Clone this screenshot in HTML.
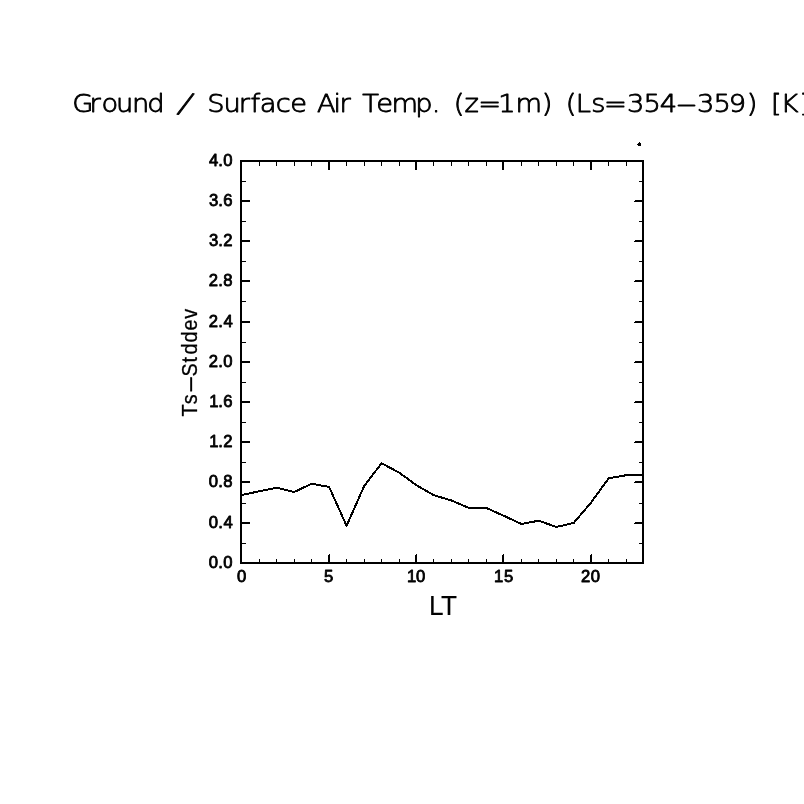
<!DOCTYPE html>
<html lang="en"><head><meta charset="utf-8"><title>Ground / Surface Air Temp.</title>
<style>html,body{margin:0;padding:0;background:#fff}svg{display:block}text{fill:#000;white-space:pre}</style></head><body>
<svg width="804" height="804" viewBox="0 0 804 804">
<rect width="804" height="804" fill="#fff"/>
<path shape-rendering="crispEdges" fill="#000" d="M240 160h404v2h-404zM240 562h404v2h-404zM240 160h2v404h-2zM642 160h2v404h-2zM259 559h1v3h-1zM259 162h1v4h-1zM276 559h1v3h-1zM276 162h1v4h-1zM294 559h1v3h-1zM294 162h1v4h-1zM311 559h1v3h-1zM311 162h1v4h-1zM329 554h1v8h-1zM328 555h1v7h-1zM328 162h2v8h-2zM346 559h1v3h-1zM346 162h1v4h-1zM364 559h1v3h-1zM364 162h1v4h-1zM381 559h1v3h-1zM381 162h1v4h-1zM399 559h1v3h-1zM399 162h1v4h-1zM416 554h1v8h-1zM415 555h1v7h-1zM415 162h2v8h-2zM433 559h1v3h-1zM433 162h1v4h-1zM451 559h1v3h-1zM451 162h1v4h-1zM468 559h1v3h-1zM468 162h1v4h-1zM486 559h1v3h-1zM486 162h1v4h-1zM503 554h1v8h-1zM502 555h1v7h-1zM502 162h2v8h-2zM521 559h1v3h-1zM521 162h1v4h-1zM538 559h1v3h-1zM538 162h1v4h-1zM556 559h1v3h-1zM556 162h1v4h-1zM573 559h1v3h-1zM573 162h1v4h-1zM591 554h1v8h-1zM590 555h1v7h-1zM590 162h2v8h-2zM608 559h1v3h-1zM608 162h1v4h-1zM626 559h1v3h-1zM626 162h1v4h-1zM242 543h4v1h-4zM639 543h3v1h-3zM242 522h8v2h-8zM634 523h8v1h-8zM635 522h7v1h-7zM242 503h4v1h-4zM639 503h3v1h-3zM242 481h8v2h-8zM634 482h8v1h-8zM635 481h7v1h-7zM242 462h4v1h-4zM639 462h3v1h-3zM242 441h8v2h-8zM634 442h8v1h-8zM635 441h7v1h-7zM242 422h4v1h-4zM639 422h3v1h-3zM242 401h8v2h-8zM634 402h8v1h-8zM635 401h7v1h-7zM242 382h4v1h-4zM639 382h3v1h-3zM242 361h8v2h-8zM634 362h8v1h-8zM635 361h7v1h-7zM242 342h4v1h-4zM639 342h3v1h-3zM242 321h8v2h-8zM634 322h8v1h-8zM635 321h7v1h-7zM242 301h4v1h-4zM639 301h3v1h-3zM242 280h8v2h-8zM634 281h8v1h-8zM635 280h7v1h-7zM242 261h4v1h-4zM639 261h3v1h-3zM242 240h8v2h-8zM634 241h8v1h-8zM635 240h7v1h-7zM242 221h4v1h-4zM639 221h3v1h-3zM242 200h8v2h-8zM634 201h8v1h-8zM635 200h7v1h-7zM242 181h4v1h-4zM639 181h3v1h-3z"/>
<path shape-rendering="crispEdges" fill="#000" d="M638 143h3v3h-3zM639 142h1v1h-1zM637 144h1v1h-1z"/>
<polyline shape-rendering="crispEdges" fill="none" stroke="#000" stroke-width="2" stroke-linejoin="round" points="241.75,495.02 259.23,491.30 276.70,487.68 294.18,492.01 311.65,483.70 329.12,486.98 346.60,525.79 364.08,486.17 381.55,463.25 399.02,472.50 416.50,485.27 433.98,495.22 451.45,500.45 468.93,507.99 486.40,507.99 503.88,515.84 521.35,523.98 538.83,520.71 556.30,527.00 573.78,522.88 591.25,502.30 608.73,478.23 626.20,475.21 643.67,475.01"/>
<text transform="scale(1.12,1)" x="64.44 79.99 90.58 103.59 117.82 131.52 147.01 158.22 168.10 185.07 199.66 213.11 223.76 231.83 246.12 259.15 274.16 282.95 297.69 303.07 313.10 323.44 335.98 349.59 370.67 385.55 393.30 405.07 414.67 426.92 444.82 460.35 483.73 493.25 505.16 514.01 527.89 539.38 559.73 574.63 589.00 603.43 622.37 636.99 650.77 666.68 676.20 688.33 696.91 713.78" y="111.90 111.90 111.90 111.90 111.90 111.90 111.90 111.42 111.90 111.90 111.90 111.90 111.90 111.90 111.90 111.90 111.90 111.90 111.90 111.90 111.90 111.90 111.90 111.90 111.90 111.90 111.90 111.90 111.90 111.90 111.90 111.90 111.90 111.90 111.90 111.90 111.90 111.90 111.90 111.90 111.90 111.90 111.90 111.90 111.90 111.90 111.90 111.90 111.90 111.90" font-family='"DejaVu Sans Light","DejaVu Sans","Liberation Sans",sans-serif' font-weight="200" font-size="24.4" stroke="#000" stroke-width="0.85" stroke-linejoin="round">Ground <tspan font-size="29.3" rotate="17">/</tspan> Surface Air Temp. (z=1m) (Ls=354<tspan textLength="19.21" lengthAdjust="spacingAndGlyphs">-</tspan>359) [K]</text>
<text transform="scale(1.04,1)" x="200.84 209.80 214.78" y="568.00" font-family='"Liberation Sans","DejaVu Sans",sans-serif' font-weight="400" font-size="16.0" stroke="#000" stroke-width="0.8" stroke-linejoin="round">0.0</text>
<text transform="scale(1.04,1)" x="200.84 209.80 214.83" y="528.00" font-family='"Liberation Sans","DejaVu Sans",sans-serif' font-weight="400" font-size="16.0" stroke="#000" stroke-width="0.8" stroke-linejoin="round">0.4</text>
<text transform="scale(1.04,1)" x="200.84 209.80 214.78" y="487.00" font-family='"Liberation Sans","DejaVu Sans",sans-serif' font-weight="400" font-size="16.0" stroke="#000" stroke-width="0.8" stroke-linejoin="round">0.8</text>
<text transform="scale(1.04,1)" x="201.10 209.80 214.78" y="447.00" font-family='"Liberation Sans","DejaVu Sans",sans-serif' font-weight="400" font-size="16.0" stroke="#000" stroke-width="0.8" stroke-linejoin="round">1.2</text>
<text transform="scale(1.04,1)" x="201.10 209.80 214.73" y="407.00" font-family='"Liberation Sans","DejaVu Sans",sans-serif' font-weight="400" font-size="16.0" stroke="#000" stroke-width="0.8" stroke-linejoin="round">1.6</text>
<text transform="scale(1.04,1)" x="200.84 209.80 214.78" y="367.00" font-family='"Liberation Sans","DejaVu Sans",sans-serif' font-weight="400" font-size="16.0" stroke="#000" stroke-width="0.8" stroke-linejoin="round">2.0</text>
<text transform="scale(1.04,1)" x="200.84 209.80 214.83" y="327.00" font-family='"Liberation Sans","DejaVu Sans",sans-serif' font-weight="400" font-size="16.0" stroke="#000" stroke-width="0.8" stroke-linejoin="round">2.4</text>
<text transform="scale(1.04,1)" x="200.84 209.80 214.78" y="286.00" font-family='"Liberation Sans","DejaVu Sans",sans-serif' font-weight="400" font-size="16.0" stroke="#000" stroke-width="0.8" stroke-linejoin="round">2.8</text>
<text transform="scale(1.04,1)" x="200.89 209.80 214.78" y="246.00" font-family='"Liberation Sans","DejaVu Sans",sans-serif' font-weight="400" font-size="16.0" stroke="#000" stroke-width="0.8" stroke-linejoin="round">3.2</text>
<text transform="scale(1.04,1)" x="200.89 209.80 214.73" y="206.00" font-family='"Liberation Sans","DejaVu Sans",sans-serif' font-weight="400" font-size="16.0" stroke="#000" stroke-width="0.8" stroke-linejoin="round">3.6</text>
<text transform="scale(1.04,1)" x="200.89 209.80 214.78" y="166.00" font-family='"Liberation Sans","DejaVu Sans",sans-serif' font-weight="400" font-size="16.0" stroke="#000" stroke-width="0.8" stroke-linejoin="round">4.0</text>
<text transform="scale(1.04,1)" x="227.81" y="582.00" font-family='"Liberation Sans","DejaVu Sans",sans-serif' font-weight="400" font-size="16.0" stroke="#000" stroke-width="0.8" stroke-linejoin="round">0</text>
<text transform="scale(1.04,1)" x="311.53" y="582.00" font-family='"Liberation Sans","DejaVu Sans",sans-serif' font-weight="400" font-size="16.0" stroke="#000" stroke-width="0.8" stroke-linejoin="round">5</text>
<text transform="scale(1.04,1)" x="391.39 400.07" y="582.00" font-family='"Liberation Sans","DejaVu Sans",sans-serif' font-weight="400" font-size="16.0" stroke="#000" stroke-width="0.8" stroke-linejoin="round">10</text>
<text transform="scale(1.04,1)" x="475.04 484.51" y="582.00" font-family='"Liberation Sans","DejaVu Sans",sans-serif' font-weight="400" font-size="16.0" stroke="#000" stroke-width="0.8" stroke-linejoin="round">15</text>
<text transform="scale(1.04,1)" x="558.58 568.15" y="582.00" font-family='"Liberation Sans","DejaVu Sans",sans-serif' font-weight="400" font-size="16.0" stroke="#000" stroke-width="0.8" stroke-linejoin="round">20</text>
<text transform="scale(0.96,1)" x="446.85 459.48" y="614.90" font-family='"Liberation Sans","DejaVu Sans",sans-serif' font-weight="400" font-size="27.3" stroke="#000" stroke-width="0.15" stroke-linejoin="round">LT</text>
<text transform="translate(196.5,416) rotate(-90) scale(0.9,1)" x="-0.55 13.20 25.10 44.00 59.41 68.30 81.63 95.01 108.00" y="0.00" font-family='"Liberation Sans","DejaVu Sans",sans-serif' font-weight="400" font-size="22.0" stroke="#000" stroke-width="0.3" stroke-linejoin="round">Ts<tspan textLength="20.24" lengthAdjust="spacingAndGlyphs">-</tspan>Stddev</text>
</svg></body></html>
